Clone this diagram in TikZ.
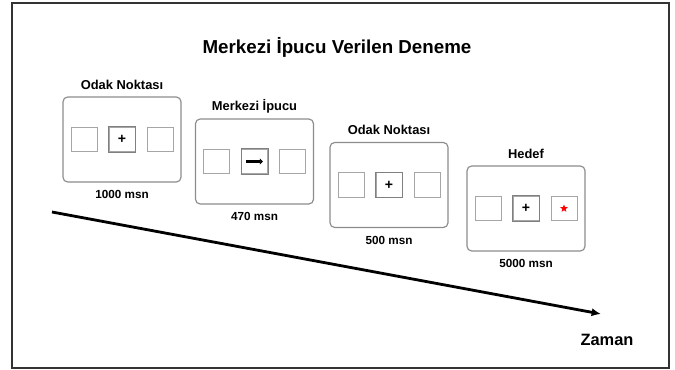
\documentclass[tikz,border=0pt]{standalone}
\usepackage{fontspec}
\setmainfont{Liberation Sans}
\usetikzlibrary{shapes.geometric,arrows.meta}

\begin{document}
\begin{tikzpicture}[x=0.03cm,y=-0.03cm,
        screen/.style={draw=black!45, line width=1pt, rounded corners=4pt, minimum width=3.54cm, minimum height=2.55cm},
        cell/.style={draw=black!35, line width=0.7pt, minimum width=0.78cm, minimum height=0.74cm},
        stagelabel/.style={font=\bfseries\fontsize{11}{13}\selectfont},
        stagetime/.style={font=\bfseries\fontsize{10}{12}\selectfont}]
    \useasboundingbox (0,0) rectangle (675,370);
    \draw[line width=1.6pt, black!80] (12,3) rectangle (669,368);

    \node[font=\bfseries\fontsize{16}{19}\selectfont] (title) at (337,47) {Merkezi İpucu Verilen Deneme};

    % the four screens of one trial
    \foreach \n/\x/\y/\lab/\dtime in {1/122/139.5/Odak Noktası/1000 msn, 2/254.5/161.5/Merkezi İpucu/470 msn, 3/389/185/Odak Noktası/500 msn, 4/526/208.5/Hedef/5000 msn} {
        \node[screen] (scr\n) at (\x,\y) {};
        \node[stagelabel] (lab\n) at (\x,\y-55) {\lab};
        \node[stagetime] (dur\n) at (\x,\y+55) {\dtime};
        \foreach \k/\dx in {l/-38,c/0,r/38} {
            \node[cell] (cell\n\k) at (\x+\dx,\y) {};
        }
        \draw[black!50, line width=0.7pt] (cell\n c.south west) rectangle (cell\n c.north east);
    }

    \node[font=\bfseries\fontsize{12}{12}\selectfont] (fix1) at (cell1c) {+};
    \node[font=\bfseries\fontsize{12}{12}\selectfont] (fix3) at (cell3c) {+};
    \node[font=\bfseries\fontsize{12}{12}\selectfont] (fix4) at (cell4c) {+};
    \draw[line width=3.4pt, -{Triangle[length=2.5pt,width=5pt]}] ([xshift=-0.25cm]cell2c.center) -- ([xshift=0.25cm]cell2c.center);
    \node[star, star points=5, star point ratio=2.3, fill=red, inner sep=0pt, minimum size=0.24cm] (target) at (cell4r) {};

    % time axis
    \coordinate (t0) at (52,212);
    \coordinate (t1) at (601,314);
    \draw[line width=2.4pt, -{Latex[length=8pt,width=7pt]}] (t0) -- (t1);
    \node[font=\bfseries\fontsize{14}{16}\selectfont] (zaman) at (607,340) {Zaman};
\end{tikzpicture}
\end{document}
